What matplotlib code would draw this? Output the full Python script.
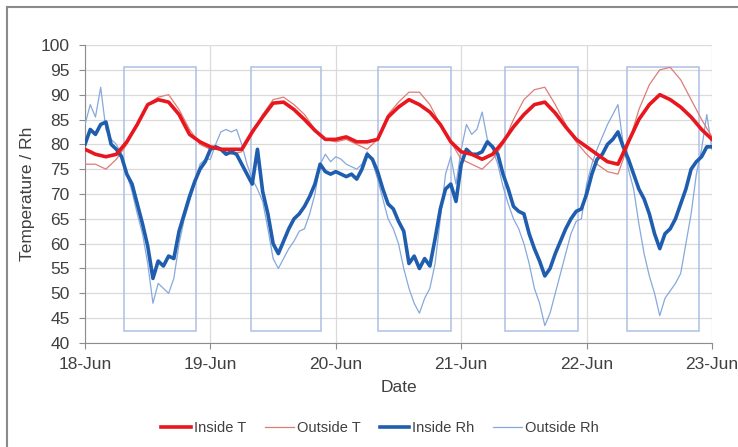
import numpy as np
import matplotlib
matplotlib.use("Agg")
import matplotlib.pyplot as plt
from matplotlib.lines import Line2D
from matplotlib.patches import Rectangle

plt.rcParams["font.family"] = ["Liberation Sans", "DejaVu Sans"]

# =========================
# Data
# =========================
DAY_LABELS = ["18-Jun", "19-Jun", "20-Jun", "21-Jun", "22-Jun", "23-Jun"]

# temperature, every 2 hours from 18-Jun 00:00 to 23-Jun 00:00
inside_t = [
    79, 78, 77.5, 78, 80.5, 84, 88, 89, 88.5, 86, 82, 80.5,
    79.5, 79, 79, 79, 82.5, 85.5, 88.3, 88.5, 87, 85, 82.8, 81,
    81, 81.5, 80.5, 80.5, 81, 85.5, 87.5, 89, 88, 86.5, 84, 80.5,
    78.5, 78, 77, 78, 80.5, 83.5, 86, 88, 88.5, 86.3, 83.5, 81,
    79.5, 78, 76.5, 76, 80.5, 85, 88, 90, 89, 87.5, 85.5, 83,
    81,
]
outside_t = [
    76, 76, 75, 77, 80, 84, 88, 89.5, 90, 87, 83, 80,
    79, 79, 78, 78.5, 82, 86, 89, 89.5, 88, 86, 83, 81,
    80.5, 81, 80, 79, 81, 86, 88.5, 90.5, 90.5, 88, 84, 80.5,
    77, 76, 75, 77, 80, 85, 89, 91, 91.5, 88, 84, 80.5,
    78, 76, 74.5, 74, 80, 87, 92, 95, 95.5, 93, 89, 85,
    81.5,
]

# relative humidity, hourly from 18-Jun 00:00 to 23-Jun 00:00
inside_rh = [
    80, 83, 82, 84, 84.5, 80, 79, 77.5, 74, 72, 68, 64,
    59.5, 53, 56.5, 55.5, 57.5, 57, 62.5, 66, 69.5, 72.5, 75, 76.5,
    79, 79.5, 79, 78, 78.5, 78, 76, 74, 72, 79, 70.5, 66,
    60, 58, 60.5, 63, 65, 66, 67.5, 69.5, 72, 76, 74.5, 74,
    74.5, 74, 73.5, 74, 73, 75, 78, 77, 74.5, 71, 68, 67,
    64.5, 62.5, 56, 57.5, 55, 57, 55.5, 61, 67, 71, 72, 68.5,
    76, 79, 78, 78, 78.5, 80.5, 79.5, 78, 74, 71, 67.5, 66.5,
    66, 62, 59, 56.5, 53.5, 55, 58, 60.5, 63, 65, 66.5, 67,
    70, 74, 77, 78, 80, 81, 82.5, 79.5, 77, 74, 71, 69,
    66, 62, 59, 62, 63, 65, 68, 71, 75, 76.5, 77.5, 79.5,
    79.5,
]
outside_rh = [
    84, 88, 85.5, 91.5, 83, 81, 80, 78, 74, 70.5, 66, 62,
    56, 48, 52, 51, 50, 53, 60, 65, 68.5, 72, 76, 77,
    77, 80, 82.5, 83, 82.5, 83, 80, 76, 73, 71, 68.5, 63,
    57, 55, 57, 59, 60.5, 62.5, 63, 66, 70, 76, 78, 76.5,
    77.5, 77, 76, 75.5, 75, 76, 78.5, 76.5, 73, 69, 65, 63,
    60, 55, 51, 48, 46, 49, 51, 56, 65, 74, 77.5, 72,
    79, 84, 82, 83, 86.5, 81, 79, 76, 71.5, 68, 65, 63,
    60, 56, 51, 48, 43.5, 46, 50, 54, 58, 62, 64.5, 65,
    72, 76, 79, 81.5, 84, 86, 88, 80, 75, 71, 64, 58,
    53.5, 50, 45.5, 49, 50.5, 52, 54, 60, 66, 74, 79, 86,
    79,
]

# daytime boxes (days after 18-Jun 00:00) and their vertical extent
box_start = [0.31, 1.32, 2.34, 3.35, 4.32]
box_end = [0.885, 1.88, 2.92, 3.93, 4.90]
BOX_LOW, BOX_HIGH = 42.5, 95.5

# =========================
# Plot
# =========================
t2 = np.arange(len(inside_t)) * 2 / 24
t1 = np.arange(len(inside_rh)) / 24

RED = "#e8161d"
PALE_RED = "#df7b78"
BLUE = "#1f5eae"
PALE_BLUE = "#86a9dc"
TEXT = "#404040"

fig = plt.figure(figsize=(7.38, 4.47), dpi=100)
ax = fig.add_axes([0.1152, 0.2327, 0.8496, 0.6666])

for s, e in zip(box_start, box_end):
    ax.add_patch(Rectangle((s, BOX_LOW), e - s, BOX_HIGH - BOX_LOW,
                           fill=False, edgecolor="#adbfe6", lw=1.1, zorder=2))

ax.plot(t1, outside_rh, color=PALE_BLUE, lw=0.9, zorder=3)
ax.plot(t2, outside_t, color=PALE_RED, lw=0.9, zorder=3)
ax.plot(t1, inside_rh, color=BLUE, lw=2.6, zorder=4)
ax.plot(t2, inside_t, color=RED, lw=2.6, zorder=5)

ax.set_xlim(0, 5)
ax.set_ylim(40, 100)
ax.set_yticks(range(40, 101, 5))
ax.set_xticks(range(6))
ax.set_xticklabels(DAY_LABELS)
ax.grid(True, color="#dadada", lw=0.9)
ax.set_axisbelow(True)
for side in ["top", "right"]:
    ax.spines[side].set_visible(False)
for side in ["left", "bottom"]:
    ax.spines[side].set_color("#8c8c8c")
ax.tick_params(axis="both", colors="#8c8c8c", labelcolor=TEXT,
               labelsize=12.5, length=4)
ax.tick_params(axis="y", pad=7)
ax.tick_params(axis="x", pad=6)
ax.set_xlabel("Date", fontsize=12.5, color=TEXT, labelpad=6)
ax.set_ylabel("Temperature / Rh", fontsize=12.5, color=TEXT, labelpad=4)

handles = [
    Line2D([], [], color=RED, lw=2.6),
    Line2D([], [], color=PALE_RED, lw=0.9),
    Line2D([], [], color=BLUE, lw=2.6),
    Line2D([], [], color=PALE_BLUE, lw=0.9),
]
fig.legend(handles, ["Inside T", "Outside T", "Inside Rh", "Outside Rh"],
           loc="center", bbox_to_anchor=(0.515, 0.043), ncol=4,
           frameon=False, fontsize=10.5, handlelength=2.0,
           handletextpad=0.2, columnspacing=1.3, labelcolor=TEXT)

# outer frame (top and left edges visible in the reference)
fig.add_artist(Line2D([0.0095, 1.0], [0.984, 0.984], color="#8a8a8a", lw=1.5,
                      transform=fig.transFigure))
fig.add_artist(Line2D([0.0095, 0.0095], [0.0, 0.984], color="#8a8a8a", lw=1.5,
                      transform=fig.transFigure))

fig.savefig("out.png", dpi=100)
